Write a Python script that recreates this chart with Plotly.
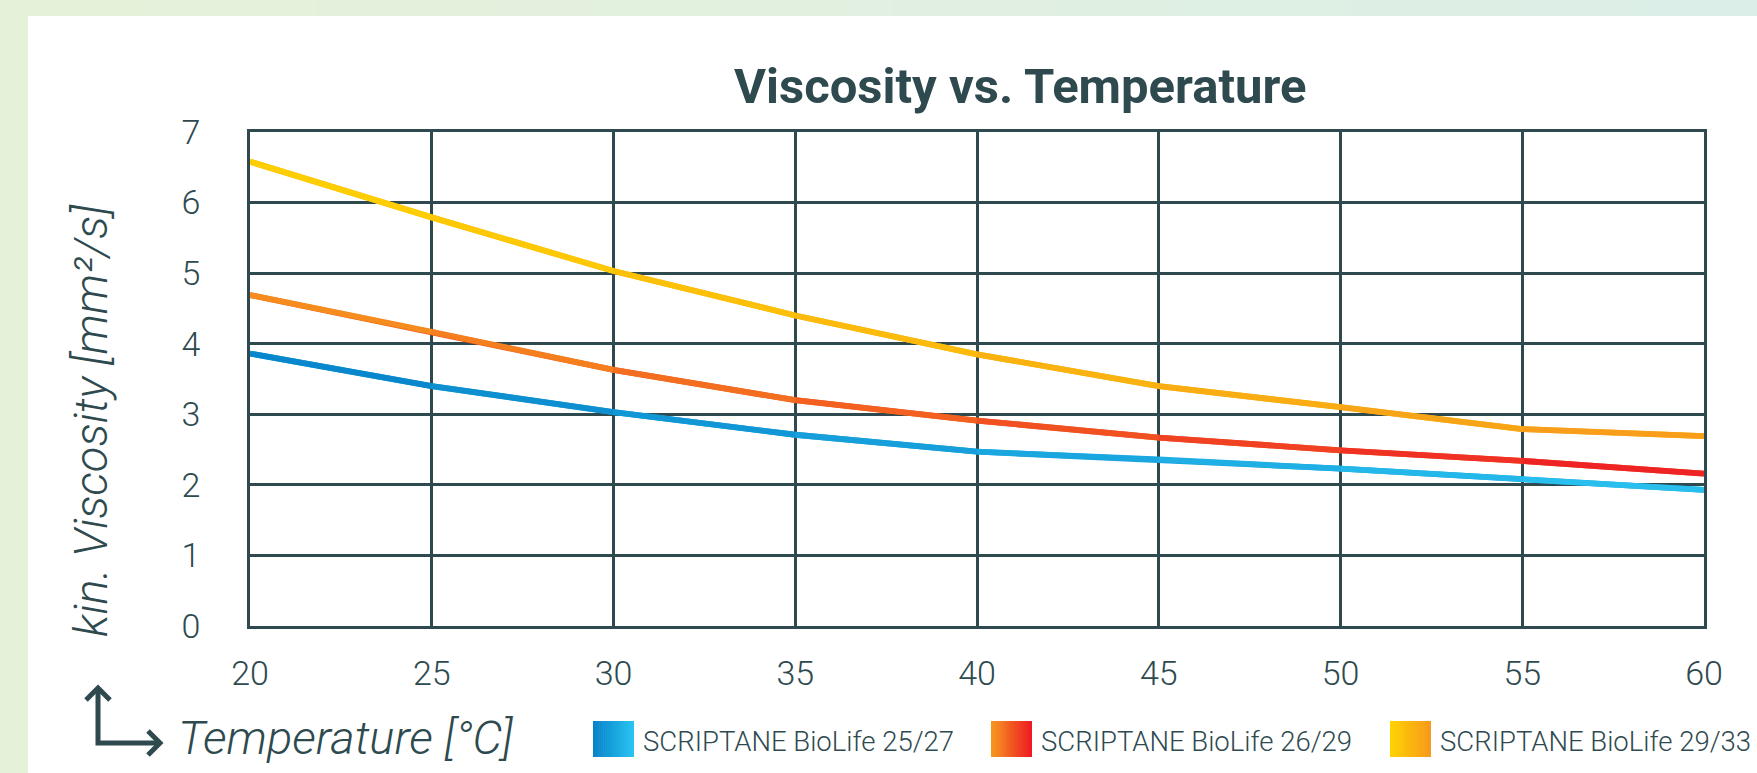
import plotly.graph_objects as go

# ---------------- data ----------------
temperature = [20, 25, 30, 35, 40, 45, 50, 55, 60]
visc_25_27 = [3.86, 3.40, 3.03, 2.71, 2.47, 2.36, 2.23, 2.08, 1.93]
visc_26_29 = [4.69, 4.17, 3.63, 3.20, 2.91, 2.67, 2.49, 2.34, 2.16]
visc_29_33 = [6.58, 5.79, 5.03, 4.40, 3.85, 3.40, 3.10, 2.79, 2.69]
series_names = ["SCRIPTANE BioLife 25/27", "SCRIPTANE BioLife 26/29", "SCRIPTANE BioLife 29/33"]
x_ticks = [20, 25, 30, 35, 40, 45, 50, 55, 60]
y_ticks = [0, 1, 2, 3, 4, 5, 6, 7]

# ---------------- style ----------------
W, H = 1757, 773
L, R, T, B = 250, 1704, 132, 626  # plot area in pixels
DARK = "#2e4a4f"
gradients = [
    ("#0683c9", "#2ac3f1"),
    ("#f7941d", "#ed1c24"),
    ("#ffd200", "#f79a1c"),
]


def px(x):
    return (x - L) / (R - L)


def py(y):
    return (B - y) / (B - T)


def hex2rgb(h):
    h = h.lstrip("#")
    return tuple(int(h[i:i + 2], 16) for i in (0, 2, 4))


def mix(c1, c2, t):
    a, b = hex2rgb(c1), hex2rgb(c2)
    return "rgb(%d,%d,%d)" % tuple(round(a[i] + (b[i] - a[i]) * t) for i in range(3))


fig = go.Figure()

all_series = [visc_25_27, visc_26_29, visc_29_33]
for k, (vals, name) in enumerate(zip(all_series, series_names)):
    c1, c2 = gradients[k]
    # base line in middle colour (fills joints)
    fig.add_trace(go.Scatter(x=temperature, y=vals, mode="lines", name=name,
                             line=dict(color=mix(c1, c2, 0.5), width=5.8),
                             showlegend=False, hoverinfo="skip"))
    n = len(temperature)
    for i in range(n - 1):
        t = (i + 0.5) / (n - 1)
        fig.add_trace(go.Scatter(x=temperature[i:i + 2], y=vals[i:i + 2], mode="lines",
                                 line=dict(color=mix(c1, c2, t), width=5.8),
                                 showlegend=False, hoverinfo="skip"))

shapes = []
# white panel
shapes.append(dict(type="rect", xref="paper", yref="paper", x0=px(28), x1=px(W + 5),
                   y0=py(H + 5), y1=py(16), fillcolor="white", line=dict(width=0), layer="below"))
# top strip gradient
nstrip = 30
for i in range(nstrip):
    xa = 28 + (W - 28) * i / nstrip
    xb = 28 + (W - 28) * (i + 1) / nstrip + 1
    shapes.append(dict(type="rect", xref="paper", yref="paper", x0=px(xa), x1=px(xb),
                       y0=py(16), y1=py(-2), fillcolor=mix("#e6f1d9", "#dbeee7", i / (nstrip - 1)),
                       line=dict(width=0), layer="below"))

# arrow icon
arrow_path = "M %f %f L %f %f L %f %f" % (px(98), py(688), px(98), py(743), px(160), py(743))
shapes.append(dict(type="path", xref="paper", yref="paper", path=arrow_path,
                   line=dict(color=DARK, width=5)))
shapes.append(dict(type="path", xref="paper", yref="paper",
                   path="M %f %f L %f %f L %f %f" % (px(86), py(700), px(98), py(688), px(110), py(700)),
                   line=dict(color=DARK, width=5)))
shapes.append(dict(type="path", xref="paper", yref="paper",
                   path="M %f %f L %f %f L %f %f" % (px(148), py(731), px(160), py(743), px(148), py(755)),
                   line=dict(color=DARK, width=5)))

# legend swatches (gradient squares)
swatch_x = [593, 991, 1390]
text_x = [641, 1039, 1438]
nsw = 20
for k in range(3):
    c1, c2 = gradients[k]
    for i in range(nsw):
        xa = swatch_x[k] + 41 * i / nsw
        xb = swatch_x[k] + 41 * (i + 1) / nsw + 0.6
        shapes.append(dict(type="rect", xref="paper", yref="paper", x0=px(xa), x1=px(min(xb, swatch_x[k] + 41)),
                           y0=py(757), y1=py(721), fillcolor=mix(c1, c2, i / (nsw - 1)),
                           line=dict(width=0)))

annotations = []
annotations.append(dict(text="Viscosity vs. Temperature", xref="paper", yref="paper",
                        x=px(1020), y=py(87), xanchor="center", yanchor="middle", showarrow=False,
                        font=dict(family="Roboto", size=49, color=DARK, weight=700)))
annotations.append(dict(text="<i>kin. Viscosity [mm²/s]</i>", xref="paper", yref="paper",
                        x=px(90), y=py(421), xanchor="center", yanchor="middle", showarrow=False,
                        textangle=-90,
                        font=dict(family="Roboto", size=47, color=DARK, weight=300)))
annotations.append(dict(text="<i>Temperature [°C]</i>", xref="paper", yref="paper",
                        x=px(176), y=py(737), xanchor="left", yanchor="middle", showarrow=False,
                        font=dict(family="Roboto", size=47, color=DARK, weight=300)))
for k in range(3):
    annotations.append(dict(text=series_names[k], xref="paper", yref="paper",
                            x=px(text_x[k]), y=py(741), xanchor="left", yanchor="middle", showarrow=False,
                            font=dict(family="Roboto", size=27.5, color=DARK, weight=300)))

fig.update_layout(
    width=W, height=H,
    margin=dict(l=L, r=W - R, t=T, b=H - B, pad=0),
    paper_bgcolor="#e6f1d9",
    plot_bgcolor="white",
    showlegend=False,
    shapes=shapes,
    annotations=annotations,
    font=dict(family="Roboto", color=DARK),
)
fig.update_xaxes(range=[20, 60], tickvals=x_ticks, ticktext=[str(v) for v in x_ticks],
                 showgrid=True, gridcolor=DARK, gridwidth=2.5, zeroline=False,
                 showline=True, linecolor=DARK, linewidth=2.5, mirror=True,
                 ticks="", ticklabelstandoff=15,
                 tickfont=dict(family="Roboto", size=34, color=DARK, weight=300))
fig.update_yaxes(range=[0, 7], tickvals=y_ticks, ticktext=[str(v) for v in y_ticks],
                 showgrid=True, gridcolor=DARK, gridwidth=2.5, zeroline=False,
                 showline=True, linecolor=DARK, linewidth=2.5, mirror=True,
                 ticks="", ticklabelstandoff=40,
                 tickfont=dict(family="Roboto", size=34, color=DARK, weight=300))

fig.write_html("out.html", config={"displayModeBar": False},
               post_script="document.body.style.margin='0px';document.body.style.overflow='hidden';")
